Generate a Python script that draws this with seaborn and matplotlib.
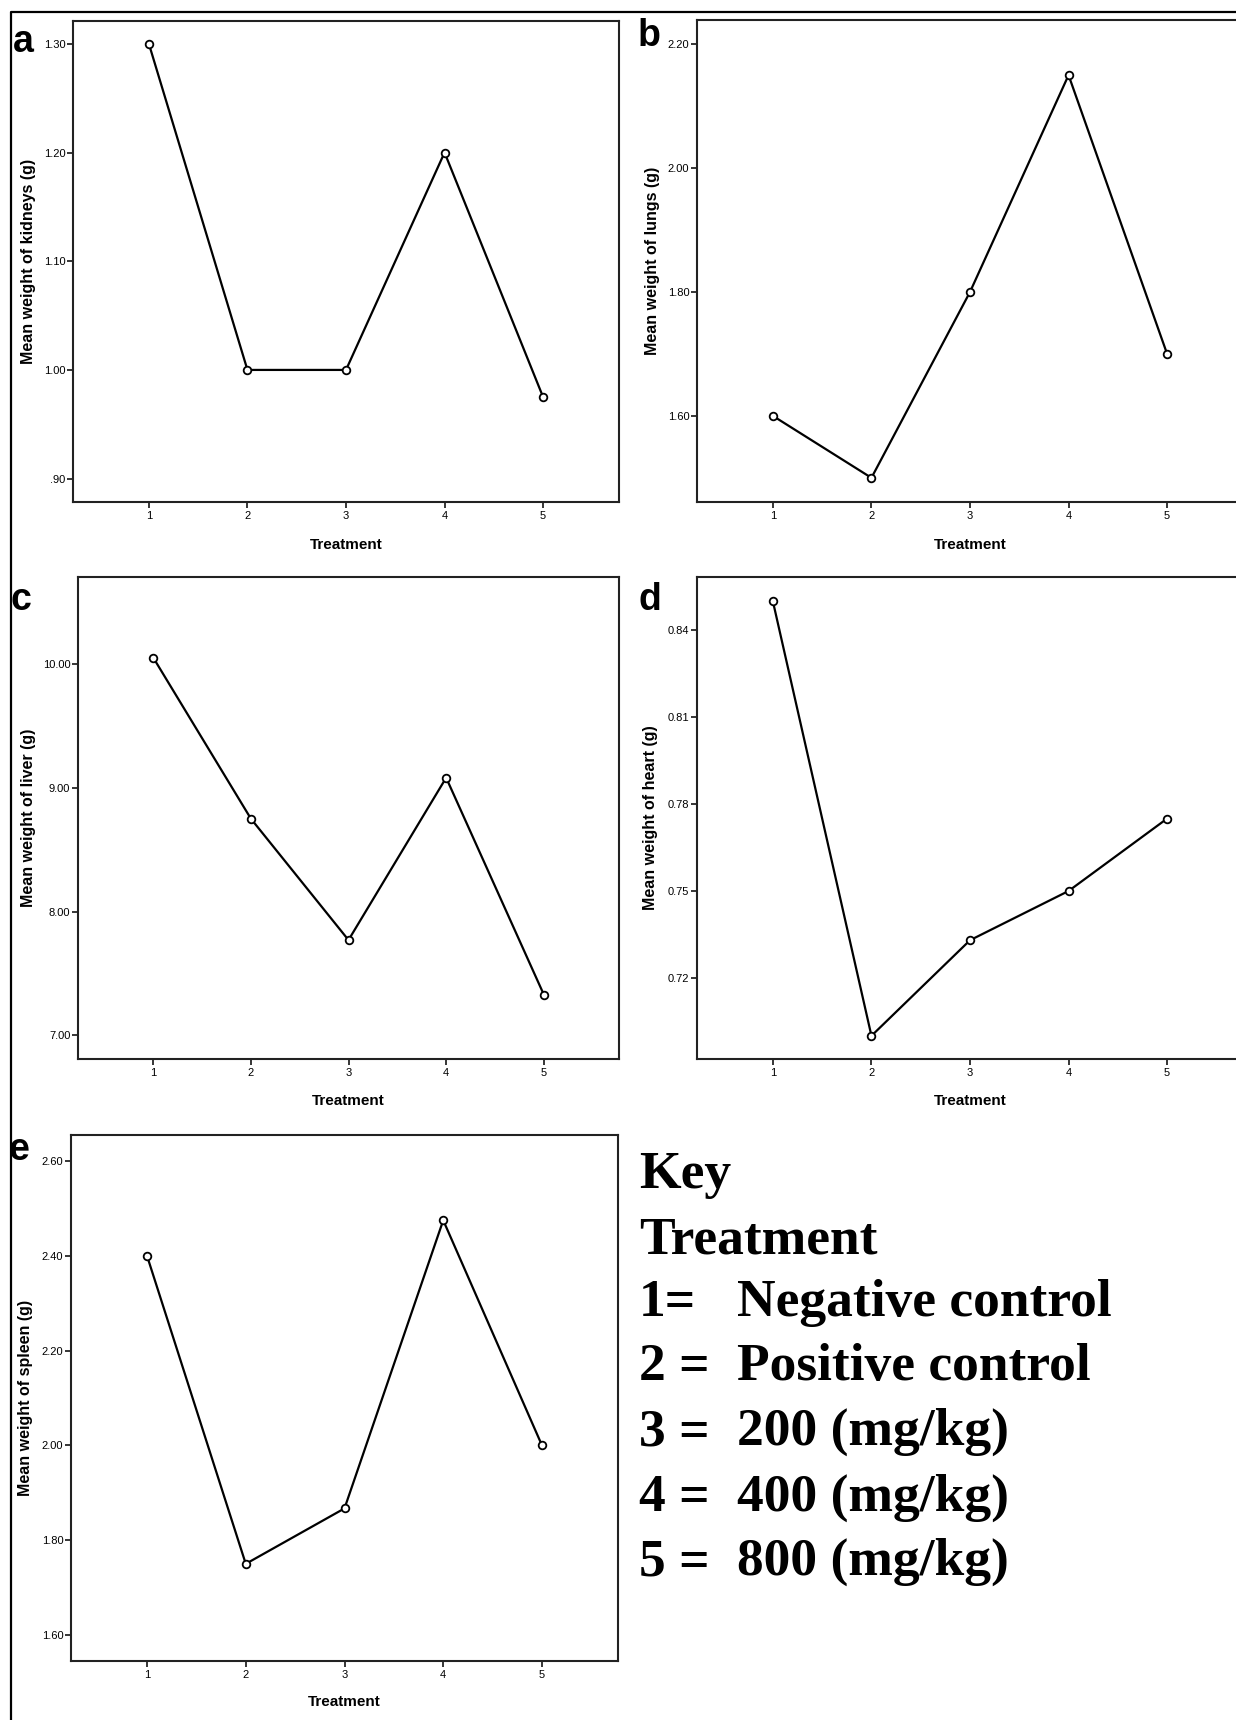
import matplotlib
matplotlib.use('Agg')
import matplotlib.pyplot as plt
from matplotlib.lines import Line2D
import seaborn as sns

# Données
treatment = [1, 2, 3, 4, 5]
kidneys = [1.30, 1.00, 1.00, 1.20, 0.975]
lungs = [1.60, 1.50, 1.80, 2.15, 1.70]
liver = [10.05, 8.75, 7.77, 9.08, 7.33]
heart = [0.850, 0.700, 0.733, 0.750, 0.775]
spleen = [2.40, 1.75, 1.867, 2.475, 2.00]

kidneys_ticks = [0.90, 1.00, 1.10, 1.20, 1.30]
kidneys_labels = ['.90', '1.00', '1.10', '1.20', '1.30']
lungs_ticks = [1.60, 1.80, 2.00, 2.20]
lungs_labels = ['1.60', '1.80', '2.00', '2.20']
liver_ticks = [7.0, 8.0, 9.0, 10.0]
liver_labels = ['7.00', '8.00', '9.00', '10.00']
heart_ticks = [0.72, 0.75, 0.78, 0.81, 0.84]
heart_labels = ['0.72', '0.75', '0.78', '0.81', '0.84']
spleen_ticks = [1.60, 1.80, 2.00, 2.20, 2.40, 2.60]
spleen_labels = ['1.60', '1.80', '2.00', '2.20', '2.40', '2.60']

key_numbers = ['1=', '2 =', '3 =', '4 =', '5 =']
key_labels = ['Negative control', 'Positive control', '200 (mg/kg)', '400 (mg/kg)', '800 (mg/kg)']

sns.set_style('white')
plt.rcParams['font.family'] = ['Liberation Sans', 'DejaVu Sans']
plt.rcParams.update({'text.color': 'black', 'axes.labelcolor': 'black',
                     'xtick.color': 'black', 'ytick.color': 'black'})

W, H = 1236, 1720
fig = plt.figure(figsize=(W / 100, H / 100), dpi=100)


def box(left, top, right, bottom):
    return [left / W, 1 - bottom / H, (right - left) / W, (bottom - top) / H]


# lettre, valeurs, label, position, ylim, ticks, labels, x du label y, y du label x, position lettre
panels = [
    ('a', kidneys, 'Mean weight of kidneys (g)', box(73, 21, 619, 502), (0.8785, 1.321),
     kidneys_ticks, kidneys_labels, 28, 545, (13, 52)),
    ('b', lungs, 'Mean weight of lungs (g)', box(697, 20, 1243, 502), (1.461, 2.239),
     lungs_ticks, lungs_labels, 653, 545, (638, 46)),
    ('c', liver, 'Mean weight of liver (g)', box(78, 577, 619, 1059), (6.81, 10.70),
     liver_ticks, liver_labels, 28, 1101, (10, 610)),
    ('d', heart, 'Mean weight of heart (g)', box(697, 577, 1243, 1059), (0.692, 0.8584),
     heart_ticks, heart_labels, 651, 1101, (638, 610)),
    ('e', spleen, 'Mean weight of spleen (g)', box(71, 1135, 618, 1661), (1.545, 2.655),
     spleen_ticks, spleen_labels, 26, 1702, (8, 1160)),
]

for letter, values, ylabel, pos, ylim, yticks, ylabels, ylab_x, xlab_y, lpos in panels:
    ax = fig.add_axes(pos)
    sns.lineplot(x=treatment, y=values, ax=ax, color='black', linewidth=1.6,
                 marker='o', markersize=5.5, markerfacecolor='white',
                 markeredgecolor='black', markeredgewidth=1.3)
    ax.set_xlim(0.23, 5.77)
    ax.set_ylim(*ylim)
    ax.set_xticks(treatment)
    ax.set_xticklabels([str(t) for t in treatment])
    ax.set_yticks(yticks)
    ax.set_yticklabels(ylabels)
    ax.tick_params(axis='both', direction='out', length=4.5, width=1.1,
                   color='black', labelsize=8, left=True, bottom=True)
    ax.tick_params(axis='y', pad=1)
    ax.tick_params(axis='x', pad=2)
    for s in ax.spines.values():
        s.set_visible(True)
        s.set_color('#222222')
        s.set_linewidth(1.5)
    ax.grid(False)

    ax.set_ylabel(ylabel, fontsize=11.5, fontweight='bold')
    ax.yaxis.label.set_va('center')
    ax.yaxis.set_label_coords(ylab_x / W, pos[1] + pos[3] / 2, transform=fig.transFigure)
    ax.set_xlabel('Treatment', fontsize=11, fontweight='bold')
    ax.xaxis.label.set_va('center')
    ax.xaxis.set_label_coords(pos[0] + pos[2] * 0.5, 1 - xlab_y / H, transform=fig.transFigure)

    fig.text(lpos[0] / W, 1 - lpos[1] / H, letter, fontsize=27, fontweight='bold',
             ha='left', va='baseline')

# Légende texte (Key)
serif = ['Liberation Serif', 'DejaVu Serif']
ks = 38.5
fig.text(639 / W, 1 - 1188 / H, 'Key', family=serif, fontsize=ks, fontweight='bold', va='baseline')
fig.text(639 / W, 1 - 1253 / H, 'Treatment', family=serif, fontsize=ks, fontweight='bold', va='baseline')
baselines = [1316, 1380, 1445, 1511, 1575]
for num, lab, yb in zip(key_numbers, key_labels, baselines):
    fig.text(639 / W, 1 - yb / H, num, family=serif, fontsize=ks, fontweight='bold', va='baseline')
    fig.text(737 / W, 1 - yb / H, lab, family=serif, fontsize=ks, fontweight='bold', va='baseline')

# Cadre extérieur (gauche et haut)
fig.add_artist(Line2D([11 / W, 11 / W, 1.01], [-0.01, 1 - 12 / H, 1 - 12 / H],
                      transform=fig.transFigure, color='black', linewidth=1.6, zorder=10))

fig.savefig('out.png', dpi=100, facecolor='white')
